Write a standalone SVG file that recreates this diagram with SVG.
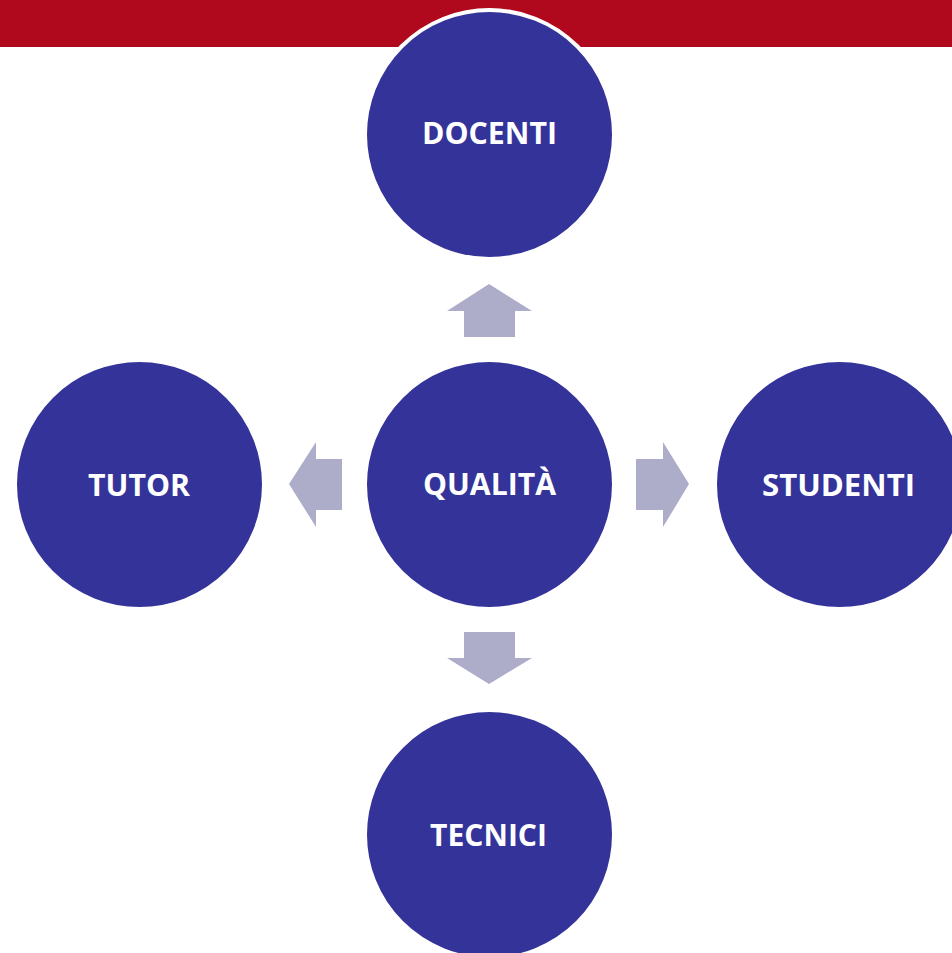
<svg xmlns="http://www.w3.org/2000/svg" width="952" height="953" viewBox="0 0 952 953">
<style>
.node circle{fill:#343399;stroke:#ffffff;stroke-width:4}
.node text{fill:#ffffff;font-family:"Open Sans","Liberation Sans",sans-serif;font-weight:bold;font-size:30px;text-anchor:middle}
.arrow{fill:#ADADCA}
</style>
<rect x="0" y="0" width="952" height="47" fill="#B0081C"/>
<g id="connectors">
<polygon class="arrow" points="489,284 532,311 515,311 515,337 464,337 464,311 447,311"/>
<polygon class="arrow" points="489,684 532,658 515,658 515,632 464,632 464,658 447,658"/>
<polygon class="arrow" points="289,484 316,442 316,459 342,459 342,510 316,510 316,527"/>
<polygon class="arrow" points="689,484 663,442 663,459 636,459 636,510 663,510 663,527"/>
</g>
<g id="node-qualita" class="node">
<circle cx="489.5" cy="484.5" r="124.5"/>
<text x="489.5" y="495" textLength="133" lengthAdjust="spacingAndGlyphs">QUALITÀ</text>
</g>
<g id="node-docenti" class="node">
<circle cx="489.5" cy="134.5" r="124.5"/>
<text x="489.5" y="144" textLength="135" lengthAdjust="spacingAndGlyphs">DOCENTI</text>
</g>
<g id="node-tecnici" class="node">
<circle cx="489.5" cy="834.5" r="124.5"/>
<text x="488.5" y="846" textLength="117" lengthAdjust="spacingAndGlyphs">TECNICI</text>
</g>
<g id="node-tutor" class="node">
<circle cx="139.5" cy="484.5" r="124.5"/>
<text x="139" y="496" textLength="102" lengthAdjust="spacingAndGlyphs">TUTOR</text>
</g>
<g id="node-studenti" class="node">
<circle cx="839.5" cy="484.5" r="124.5"/>
<text x="838.5" y="496" textLength="153" lengthAdjust="spacingAndGlyphs">STUDENTI</text>
</g>
</svg>
